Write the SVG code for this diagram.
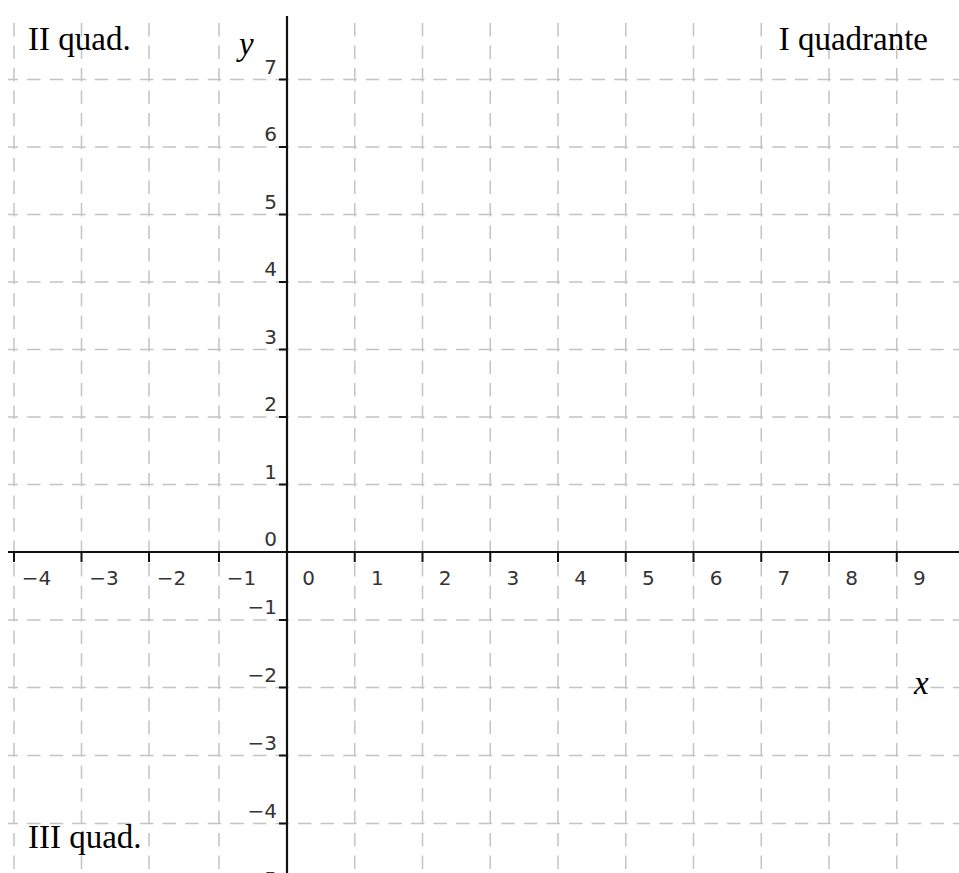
<svg xmlns="http://www.w3.org/2000/svg" width="959" height="873" viewBox="0 0 959 873">
<style>
.gh{stroke:#c4c4c4;stroke-width:1.5;fill:none;stroke-dasharray:13.5 9.08;stroke-dashoffset:3.5}
.gv{stroke:#c4c4c4;stroke-width:1.5;fill:none;stroke-dasharray:13.5 9;stroke-dashoffset:15.5}
.ax{stroke:#111;stroke-width:2.2;fill:none}
.tk{stroke:#111;stroke-width:2;fill:none}
.tl{font-family:"DejaVu Sans",Verdana,sans-serif;font-size:20px;fill:#333}
.xl{text-anchor:middle}
.yl{text-anchor:end}
.q{font-family:"Liberation Serif","Times New Roman",serif;font-size:33px;fill:#000}
.v{font-family:"Liberation Serif","Times New Roman",serif;font-size:33px;font-style:italic;fill:#000}
</style>
<rect width="959" height="873" fill="#fff"/>
<g id="grid">
<path class="gh" d="M8 79.5H959M8 147H959M8 214.5H959M8 282H959M8 349.5H959M8 417H959M8 484.5H959M8 620H959M8 687.5H959M8 755.5H959M8 823.5H959"/>
<path class="gv" d="M14 16V873M81.5 16V873M149 16V873M219 16V873M354.75 16V873M422.5 16V873M490.25 16V873M558 16V873M625.75 16V873M693.5 16V873M761.25 16V873M829 16V873M896.75 16V873"/>
</g>
<g id="axes">
<path class="ax" d="M8 552H959"/>
<path class="ax" d="M287 16V873"/>
<path class="tk" d="M14 552V562M81.5 552V562M149 552V562M219 552V562M354.75 552V562M422.5 552V562M490.25 552V562M558 552V562M625.75 552V562M693.5 552V562M761.25 552V562M829 552V562M896.75 552V562"/>
<path class="tk" d="M279 79.5H287M279 147H287M279 214.5H287M279 282H287M279 349.5H287M279 417H287M279 484.5H287M279 620H287M279 687.5H287M279 755.5H287M279 823.5H287"/>
</g>
<g id="x-labels" class="tl xl">
<text x="36.5" y="585">−4</text>
<text x="104" y="585">−3</text>
<text x="171.5" y="585">−2</text>
<text x="241.5" y="585">−1</text>
<text x="308.5" y="585">0</text>
<text x="377.25" y="585">1</text>
<text x="445" y="585">2</text>
<text x="512.75" y="585">3</text>
<text x="580.5" y="585">4</text>
<text x="648.25" y="585">5</text>
<text x="716" y="585">6</text>
<text x="783.75" y="585">7</text>
<text x="851.5" y="585">8</text>
<text x="919.25" y="585">9</text>
</g>
<g id="y-labels" class="tl yl">
<text x="277" y="73.5">7</text>
<text x="277" y="141">6</text>
<text x="277" y="208.5">5</text>
<text x="277" y="276">4</text>
<text x="277" y="343.5">3</text>
<text x="277" y="411">2</text>
<text x="277" y="478.5">1</text>
<text x="277" y="546">0</text>
<text x="277" y="614">−1</text>
<text x="277" y="681.5">−2</text>
<text x="277" y="749.5">−3</text>
<text x="277" y="817.5">−4</text>
<text x="277" y="885.5">−5</text>
</g>
<g id="quadrant-labels">
<text class="q" x="28" y="50">II quad.</text>
<text class="q" x="928" y="50" text-anchor="end">I quadrante</text>
<text class="q" x="28" y="848">III quad.</text>
</g>
<g id="axis-names">
<text class="v" x="239" y="55">y</text>
<text class="v" x="914" y="694">x</text>
</g>
</svg>
